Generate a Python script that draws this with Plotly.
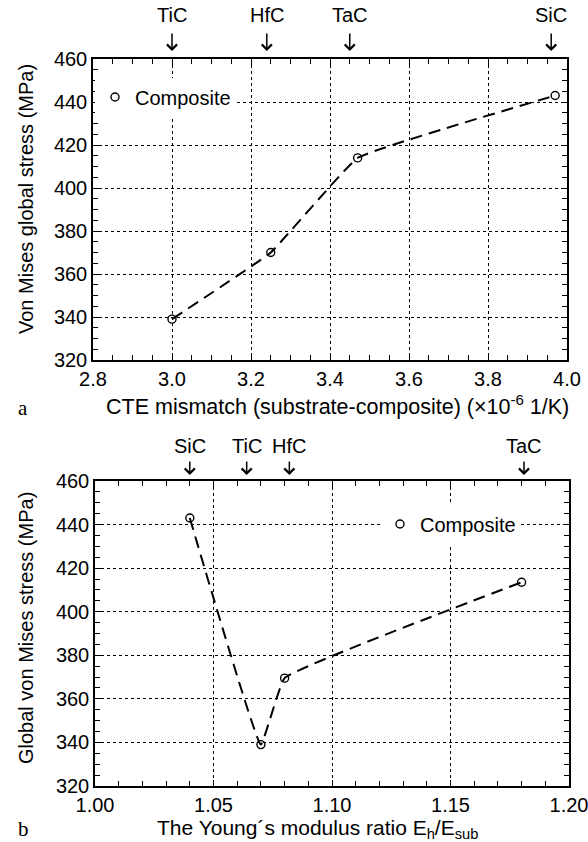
import plotly.graph_objects as go

# ---- data (panel a) ----
cte_mismatch = [3.00, 3.25, 3.47, 3.97]
cte_stress = [339, 370, 414, 443]
cte_arrow_x = [3.00, 3.24, 3.45, 3.96]
cte_labels = ["TiC", "HfC", "TaC", "SiC"]

# ---- data (panel b) ----
modulus_ratio = [1.04, 1.07, 1.08, 1.18]
ratio_stress = [443, 339, 369.5, 413.5]
ratio_arrow_x = [1.04, 1.064, 1.082, 1.181]
ratio_labels = ["SiC", "TiC", "HfC", "TaC"]

W, H = 588, 842
FONT = "Liberation Sans, Arial, Helvetica, sans-serif"
SERIF = "Liberation Serif, Times New Roman, serif"


def py(px):
    return 1 - px / H


def px_(p):
    return p / W


fig = go.Figure()

line_style = dict(color="black", width=2, dash="12px,7px", shape="spline", smoothing=0.25)
marker_style = dict(symbol="circle-open", size=8, color="black", line=dict(width=1.4, color="black"))

fig.add_trace(go.Scatter(x=cte_mismatch, y=cte_stress, mode="lines", line=line_style,
                         showlegend=False, xaxis="x", yaxis="y"))
fig.add_trace(go.Scatter(x=cte_mismatch, y=cte_stress, mode="markers", marker=marker_style,
                         name="Composite", xaxis="x", yaxis="y", legend="legend"))
fig.add_trace(go.Scatter(x=modulus_ratio, y=ratio_stress, mode="lines", line=line_style,
                         showlegend=False, xaxis="x2", yaxis="y2"))
fig.add_trace(go.Scatter(x=modulus_ratio, y=ratio_stress, mode="markers", marker=marker_style,
                         name="Composite", xaxis="x2", yaxis="y2", legend="legend2"))


def axis(**kw):
    d = dict(
        showline=True, linecolor="black", linewidth=1.5, mirror="ticks",
        ticks="inside", ticklen=6, tickwidth=1.3, tickcolor="black",
        showgrid=True, gridcolor="black", griddash="dot", gridwidth=1,
        zeroline=False, automargin=False, ticklabeloverflow="allow",
        tickfont=dict(size=20, color="black", family=FONT),
        fixedrange=True,
    )
    d.update(kw)
    return d


fig.update_layout(
    template="none",
    width=W, height=H,
    margin=dict(l=0, r=0, t=0, b=0),
    paper_bgcolor="white", plot_bgcolor="white",
    font=dict(family=FONT, color="black", size=20),
    xaxis=axis(domain=[px_(93), px_(567)], anchor="y", range=[2.8, 4.0], dtick=0.2,
               tickformat=".1f",
               minor=dict(ticks="inside", ticklen=5, tickwidth=1.2, tickcolor="black", dtick=0.05, showgrid=False)),
    yaxis=axis(domain=[py(360), py(59)], anchor="x", range=[320, 460], dtick=20,
               minor=dict(ticks="inside", ticklen=5, tickwidth=1.2, tickcolor="black", dtick=5, showgrid=False)),
    xaxis2=axis(domain=[px_(95), px_(569)], anchor="y2", range=[1.0, 1.2], dtick=0.05,
                tickformat=".2f",
                minor=dict(ticks="inside", ticklen=5, tickwidth=1.2, tickcolor="black", dtick=0.01, showgrid=False)),
    yaxis2=axis(domain=[py(786), py(481)], anchor="x2", range=[320, 460], dtick=20,
                minor=dict(ticks="inside", ticklen=5, tickwidth=1.2, tickcolor="black", dtick=5, showgrid=False)),
    legend=dict(x=px_(95), xanchor="left", y=py(97), yanchor="middle",
                bgcolor="white", borderwidth=0, font=dict(size=20, family=FONT)),
    legend2=dict(x=px_(380), xanchor="left", y=py(524), yanchor="middle",
                 bgcolor="white", borderwidth=0, font=dict(size=20, family=FONT)),
)

ann = []
for lab, xv in zip(cte_labels, cte_arrow_x):
    ann.append(dict(x=xv, xref="x", y=py(51), yref="paper", text=lab, showarrow=True,
                    ax=0, ay=-36, startstandoff=6, arrowhead=4, arrowsize=1.3, arrowwidth=1.5,
                    arrowcolor="black", font=dict(size=20, family=FONT)))
for lab, xv in zip(ratio_labels, ratio_arrow_x):
    ann.append(dict(x=xv, xref="x2", y=py(475), yref="paper", text=lab, showarrow=True,
                    ax=0, ay=-29, startstandoff=3, arrowhead=4, arrowsize=1.3, arrowwidth=1.5,
                    arrowcolor="black", font=dict(size=20, family=FONT)))

# axis titles
ann.append(dict(x=px_(337), y=py(405), xref="paper", yref="paper",
                text="CTE mismatch (substrate-composite) (×10<sup>-6</sup> 1/K)", showarrow=False,
                font=dict(size=21.5, family=FONT), xanchor="center", yanchor="middle"))
ann.append(dict(x=px_(317), y=py(829), xref="paper", yref="paper",
                text="The Young´s modulus ratio E<sub>h</sub>/E<sub>sub</sub>", showarrow=False,
                font=dict(size=21, family=FONT), xanchor="center", yanchor="middle"))
ann.append(dict(x=px_(26), y=py(199), xref="paper", yref="paper",
                text="Von Mises global stress (MPa)", showarrow=False, textangle=-90,
                font=dict(size=20, family=FONT), xanchor="center", yanchor="middle"))
ann.append(dict(x=px_(26), y=py(628), xref="paper", yref="paper",
                text="Global von Mises stress (MPa)", showarrow=False, textangle=-90,
                font=dict(size=20, family=FONT), xanchor="center", yanchor="middle"))

# panel labels
ann.append(dict(x=px_(23), y=py(408), xref="paper", yref="paper", text="a", showarrow=False,
                font=dict(size=21, family=SERIF), xanchor="center", yanchor="middle"))
ann.append(dict(x=px_(23), y=py(829), xref="paper", yref="paper", text="b", showarrow=False,
                font=dict(size=21, family=SERIF), xanchor="center", yanchor="middle"))
fig.update_layout(annotations=ann)

fig.write_html("out.html", config={"displayModeBar": False},
               post_script="document.body.style.margin='0px';document.body.style.overflow='hidden';")
